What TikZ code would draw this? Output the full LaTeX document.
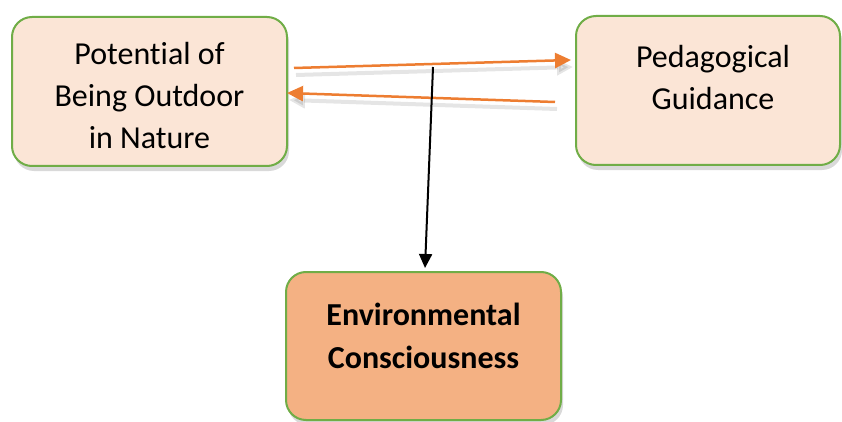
\documentclass[tikz,border=0pt]{standalone}
\usepackage{fontspec}
\setmainfont{Carlito}[Ligatures=NoCommon]
\usetikzlibrary{arrows.meta,shadows}
\definecolor{bgreen}{HTML}{70AD47}
\definecolor{lpeach}{HTML}{FBE5D6}
\definecolor{dpeach}{HTML}{F4B183}
\definecolor{aorange}{HTML}{ED7D31}
\begin{document}
\begin{tikzpicture}[x=1pt,y=-1pt,
  box/.style={draw=bgreen, line width=2pt, rounded corners=20pt, inner sep=0pt,
    drop shadow={shadow xshift=2pt,shadow yshift=-5pt,opacity=0.3}},
  txt/.style={font=\fontsize{32}{42}\selectfont, align=center, inner sep=0pt},
  oarrow/.style={draw=aorange, line width=2.5pt, -{Triangle[length=16pt,width=15pt]},
    preaction={draw=black, opacity=0.1, line width=4pt, transform canvas={shift={(2pt,-7pt)}}}},
  karrow/.style={draw=black, line width=2pt, -{Triangle[length=14pt,width=13pt]}}]
\useasboundingbox (0,0) rectangle (842,422);
\node[box, fill=lpeach, minimum width=275pt, minimum height=149pt] (pot) at (149.5,91.5) {};
\node[box, fill=lpeach, minimum width=264pt, minimum height=149pt] (ped) at (708,90.5) {};
\node[box, fill=dpeach, minimum width=275pt, minimum height=148pt] (env) at (423.5,346) {};
\node[txt] (pottxt) at (149.5,96) {Potential of\\Being Outdoor\\in Nature};
\node[txt] (pedtxt) at (713,77.5) {Pedagogical\\Guidance};
\node[txt, font=\fontsize{32}{43}\selectfont\bfseries] (envtxt) at (423.5,335.5) {Environmental\\Consciousness};
\coordinate (a1) at (294,68);
\coordinate (a2) at (571,60);
\coordinate (b1) at (555,102);
\coordinate (b2) at (287,93);
\coordinate (k1) at (433,67);
\coordinate (k2) at (425,268);
\draw[oarrow] (a1) -- (a2);
\draw[oarrow] (b1) -- (b2);
\draw[karrow] (k1) -- (k2);
\end{tikzpicture}
\end{document}
